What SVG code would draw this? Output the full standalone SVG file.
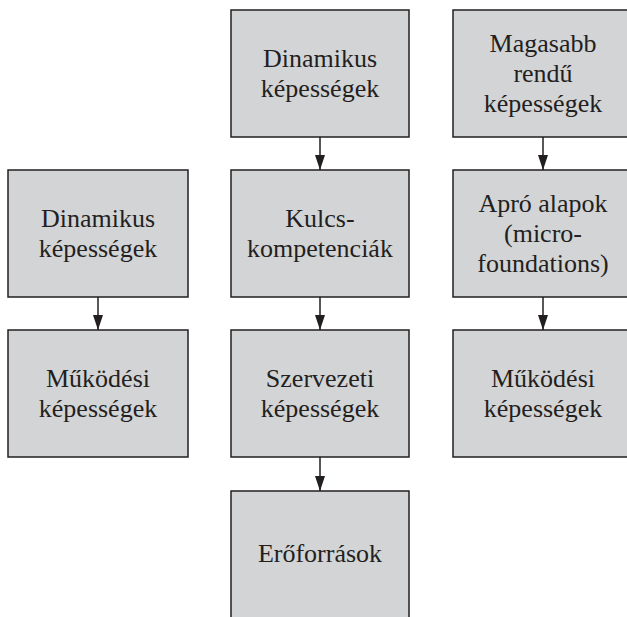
<svg xmlns="http://www.w3.org/2000/svg" width="627" height="617" viewBox="0 0 627 617">
<style>
.box{fill:#d3d4d6;stroke:#231f20;stroke-width:1.5}
text{font-family:'Liberation Serif','Times New Roman',Tinos,serif;font-size:26px;fill:#231f20;text-anchor:middle}
.c{stroke:#231f20;stroke-width:1.5;fill:none}
</style>
<defs>
<marker id="ah" markerWidth="15" markerHeight="10" refX="15" refY="5" orient="auto" markerUnits="userSpaceOnUse" viewBox="0 0 15 10">
<path d="M0,0 L15,5 L0,10 Z" fill="#231f20"/>
</marker>
</defs>
<rect width="627" height="617" fill="#fff"/>
<g id="n1"><rect class="box" x="8" y="170" width="180" height="127"/><text x="98" y="227">Dinamikus</text><text x="98" y="257">képességek</text></g>
<g id="n2"><rect class="box" x="8" y="330" width="180" height="127"/><text x="98" y="387">Működési</text><text x="98" y="417">képességek</text></g>
<g id="n3"><rect class="box" x="231" y="10" width="178" height="127"/><text x="320" y="67">Dinamikus</text><text x="320" y="97">képességek</text></g>
<g id="n4"><rect class="box" x="231" y="170" width="178" height="127"/><text x="320" y="227">Kulcs-</text><text x="320" y="257">kompetenciák</text></g>
<g id="n5"><rect class="box" x="231" y="330" width="178" height="127"/><text x="320" y="387">Szervezeti</text><text x="320" y="417">képességek</text></g>
<g id="n6"><rect class="box" x="231" y="491" width="178" height="140"/><text x="320" y="562">Erőforrások</text></g>
<g id="n7"><rect class="box" x="453" y="10" width="180" height="127"/><text x="543" y="52">Magasabb</text><text x="543" y="82">rendű</text><text x="543" y="112">képességek</text></g>
<g id="n8"><rect class="box" x="453" y="170" width="180" height="127"/><text x="543" y="212">Apró alapok</text><text x="543" y="242">(micro-</text><text x="543" y="272">foundations)</text></g>
<g id="n9"><rect class="box" x="453" y="330" width="180" height="127"/><text x="543" y="387">Működési</text><text x="543" y="417">képességek</text></g>
<g id="connectors">
<line class="c" x1="98" y1="297" x2="98" y2="330" marker-end="url(#ah)"/>
<line class="c" x1="320" y1="137" x2="320" y2="170" marker-end="url(#ah)"/>
<line class="c" x1="320" y1="297" x2="320" y2="330" marker-end="url(#ah)"/>
<line class="c" x1="320" y1="457" x2="320" y2="491" marker-end="url(#ah)"/>
<line class="c" x1="543" y1="137" x2="543" y2="170" marker-end="url(#ah)"/>
<line class="c" x1="543" y1="297" x2="543" y2="330" marker-end="url(#ah)"/>
</g>
</svg>
